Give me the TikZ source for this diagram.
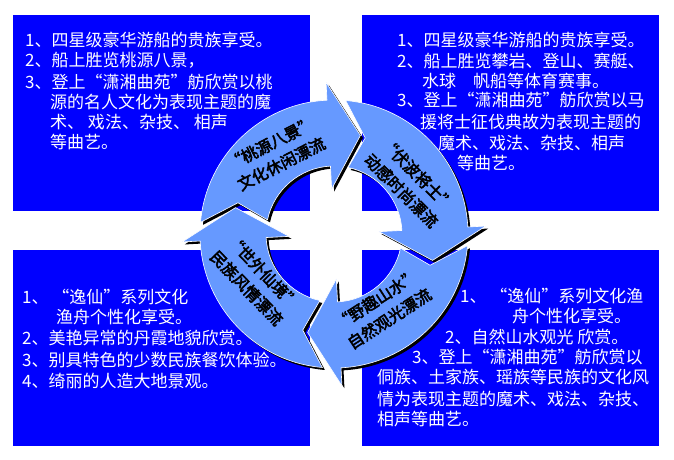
\documentclass[tikz,border=0pt]{standalone}
\usepackage{fontspec}
\newfontfamily\cjk{Noto Sans CJK SC}
\newfontfamily\cjkbold[FakeBold=3]{Noto Sans CJK SC}
\usepackage{tikz}
\usetikzlibrary{calc}

\definecolor{panelblue}{RGB}{0,0,255}
\definecolor{ringblue}{RGB}{102,153,255}

\tikzset{
  panel/.style={fill=panelblue},
  item/.style={anchor=base west,inner sep=0pt,text=white,font=\cjk\fontsize{17}{20}\selectfont},
  ringtext/.style={align=center,inner sep=0pt,font=\cjkbold\fontsize{16}{23}\selectfont},
}

\begin{document}
\begin{tikzpicture}[x=1pt,y=1pt]
\useasboundingbox (0,0) rectangle (674,459);
\fill[white] (0,0) rectangle (674,459);

\fill[panel] (13,248) rectangle (310,444);
\fill[panel] (362,248) rectangle (659,444);
\fill[panel] (13,13) rectangle (310,209);
\fill[panel] (362,13) rectangle (659,209);

\foreach \x/\y/\t [count=\i] in {25/412.5/{1、四星级豪华游船的贵族享受。},
  25/392/{2、船上胜览桃源八景，},
  25/370.5/{3、登上“潇湘曲苑”舫欣赏以桃},
  50/350.5/{源的名人文化为表现主题的魔},
  50/330.5/{术、\ 戏法、杂技、\ 相声},
  50/310.5/{等曲艺。}}
  \node[item] (tl-\i) at (\x,\y) {\t};

\foreach \x/\y/\t [count=\i] in {397/412.5/{1、四星级豪华游船的贵族享受。},
  397/391.5/{2、船上胜览攀岩、登山、赛艇、},
  422/371.5/{水球\hspace{1em}帆船等体育赛事。},
  397/352.5/{3、登上“潇湘曲苑”舫欣赏以马},
  420/330.5/{援将士征伐典故为表现主题的},
  438/309.5/{魔术、戏法、杂技、相声},
  457/289.5/{等曲艺。}}
  \node[item] (tr-\i) at (\x,\y) {\t};

\foreach \x/\y/\t [count=\i] in {22/155.5/{1、\ “逸仙”系列文化},
  56/135.5/{渔舟个性化享受。},
  22/114.5/{2、美艳异常的丹霞地貌欣赏。},
  22/92.5/{3、别具特色的少数民族餐饮体验。},
  22/71.5/{4、绮丽的人造大地景观。}}
  \node[item] (bl-\i) at (\x,\y) {\t};

\foreach \x/\y/\t [count=\i] in {460/156.5/{1、\ “逸仙”系列文化渔},
  512/136.5/{舟个性化享受。},
  445/115.5/{2、自然山水观光\ 欣赏。},
  412/95.5/{3、登上“潇湘曲苑”舫欣赏以},
  377/75.5/{侗族、土家族、瑶族等民族的文化风},
  377/53.5/{情为表现主题的魔术、戏法、杂技、},
  377/33.5/{相声等曲艺。}}
  \node[item] (br-\i) at (\x,\y) {\t};

% shadows first, then the four arrows of the cycle
\foreach \a in {0,-90,-180,-270}
  \fill[black,shift={(336.5,222.5)},rotate=\a] (175:134pt) arc[start angle=175,end angle=93,radius=134pt]
    -- (93:152pt) -- (75:102pt) -- (93:45pt) -- (93:68pt)
    arc[start angle=93,end angle=168,radius=68pt] -- (162:101pt) -- cycle;
\foreach \a in {0,-90,-180,-270}
  \filldraw[fill=ringblue,draw=white,line width=0.6pt,shift={(334,225)},rotate=\a] (175:134pt) arc[start angle=175,end angle=93,radius=134pt]
    -- (93:152pt) -- (75:102pt) -- (93:45pt) -- (93:68pt)
    arc[start angle=93,end angle=168,radius=68pt] -- (162:101pt) -- cycle;

\node[ringtext,rotate=27] (taoyuan) at (276,305.5) {“桃源八景”\\文化休闲漂流};
\node[ringtext,rotate=-45] (fubo) at (409.5,276.5) {“伏波将士”\\动感时尚漂流};
\node[ringtext,rotate=33] (yequ) at (383,150) {“野趣山水”\\自然观光漂流};
\node[ringtext,rotate=-46] (shiwai) at (255,179) {“世外仙境”\\民族风情漂流};
\end{tikzpicture}
\end{document}
